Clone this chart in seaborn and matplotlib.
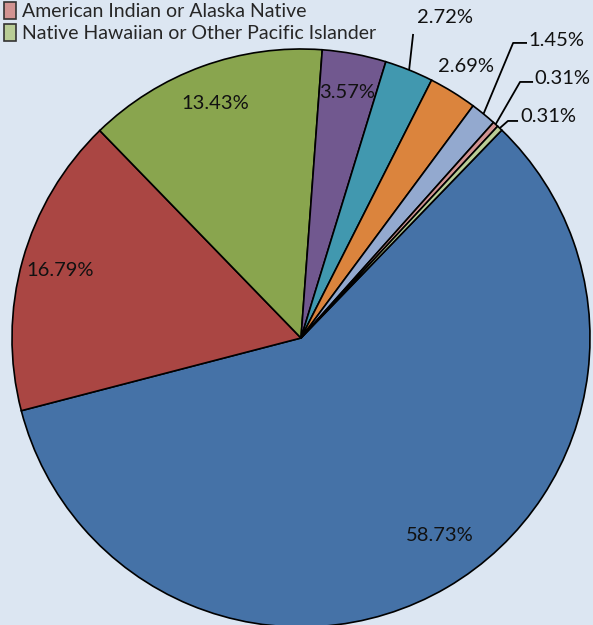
import numpy as np
import seaborn as sns
import matplotlib.pyplot as plt
from matplotlib.patches import Patch

# ---------- data ----------
groups = ["White", "Black or African American", "Hispanic or Latino", "Asian",
          "Two or More Races", "Some Other Race", "Other",
          "American Indian or Alaska Native",
          "Native Hawaiian or Other Pacific Islander"]
shares = [58.73, 16.79, 13.43, 3.57, 2.72, 2.69, 1.45, 0.31, 0.31]
slice_colors = ["#4572A7", "#AA4643", "#89A54E", "#71588F", "#4198AF",
                "#DB843D", "#93A9CF", "#D19392", "#B9CD96"]
legend_groups = groups[-2:]
legend_colors = slice_colors[-2:]

# ---------- layout (label placement, data units: radius = 1) ----------
label_pos = [(0.481, -0.682), None, None, None,
             (0.498, 1.109), (0.571, 0.941), (0.882, 1.031),
             (0.903, 0.898), (0.855, 0.765)]
inner_r = 0.865
# leader line elbows / ends for the small slices
leaders = {4: [(0.388, 1.052)],
           6: [(0.734, 1.021), (0.782, 1.021)],
           7: [(0.758, 0.886), (0.803, 0.886)],
           8: [(0.716, 0.751), (0.751, 0.751)]}

bg = "#DCE6F2"
sns.set_style("white")
plt.rcParams["font.family"] = ["Lato", "DejaVu Sans"]

fig = plt.figure(figsize=(5.93, 6.25), dpi=100, facecolor=bg)
ax = fig.add_axes([0, 0, 1, 1])
ax.set_facecolor(bg)

wedges, _ = ax.pie(shares, colors=slice_colors, startangle=46,
                   counterclock=False,
                   wedgeprops=dict(edgecolor="black", linewidth=1.2))

for i, (w, v) in enumerate(zip(wedges, shares)):
    mid = np.deg2rad((w.theta1 + w.theta2) / 2)
    if label_pos[i] is None:
        lx, ly = inner_r * np.cos(mid), inner_r * np.sin(mid)
    else:
        lx, ly = label_pos[i]
    ax.text(lx, ly, f"{v:.2f}%", ha="center", va="center",
            fontsize=14.5, color="#111111")
    if i in leaders:
        pts = [(np.cos(mid), np.sin(mid))] + leaders[i]
        xs, ys = zip(*pts)
        ax.plot(xs, ys, color="black", lw=1.3, solid_capstyle="butt")

ax.set_xlim(-301 / 289, (593 - 301) / 289)
ax.set_ylim(-(625 - 338) / 289, 338 / 289)
ax.set_aspect("auto")
ax.axis("off")

handles = [Patch(facecolor=c, edgecolor="#333333", linewidth=1.2)
           for c in legend_colors]
fig.legend(handles, legend_groups, loc="upper left",
           bbox_to_anchor=(0.006, 0.997), frameon=False, fontsize=14,
           handlelength=0.62, handleheight=0.95, handletextpad=0.35,
           labelspacing=0.2, borderpad=0.0, borderaxespad=0.0)

fig.savefig("out.png", dpi=100, facecolor=bg)
